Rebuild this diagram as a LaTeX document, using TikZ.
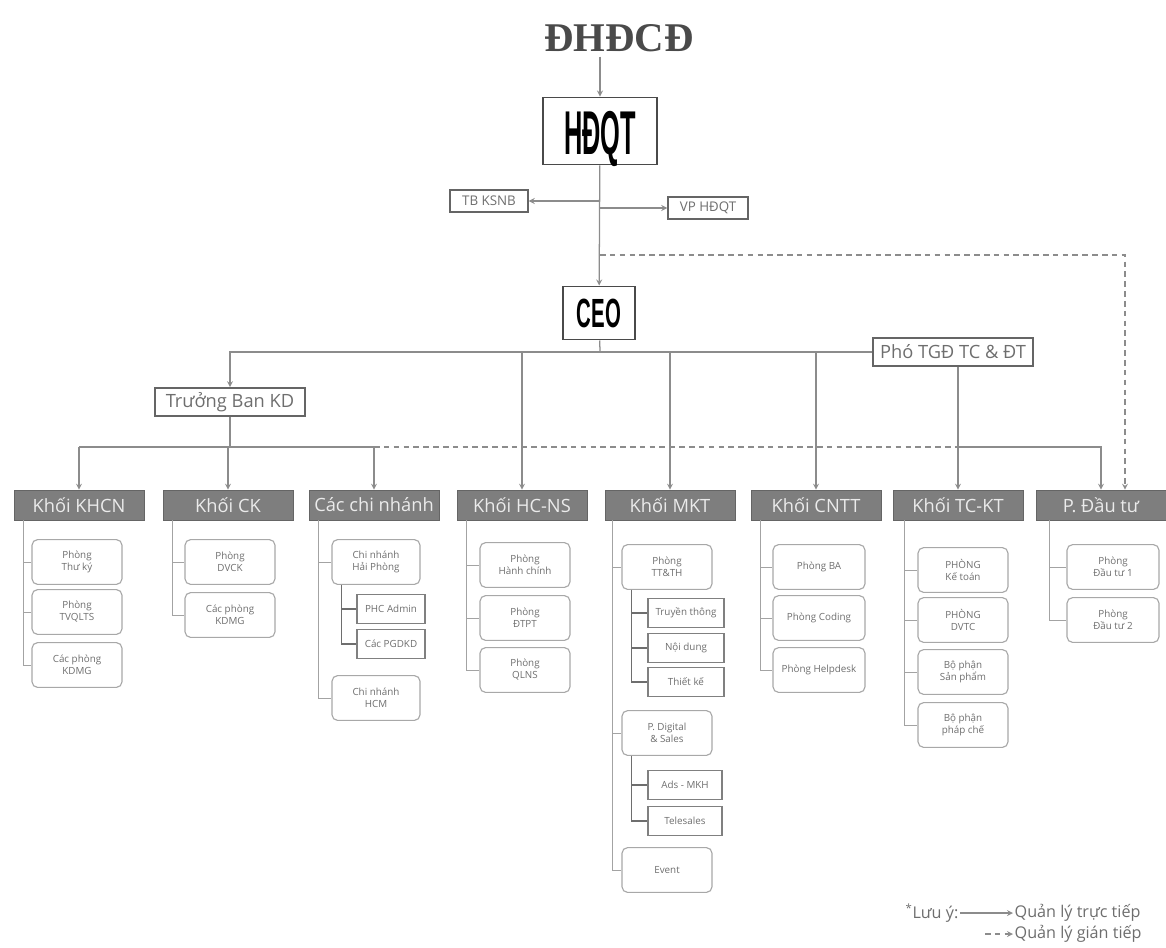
\documentclass[tikz,border=0pt]{standalone}
\usepackage{fontspec}
\setmainfont{Open Sans}
\newfontfamily\titlefont{Liberation Serif}
\newfontfamily\condfont{Liberation Sans}
\usetikzlibrary{arrows,calc}

\definecolor{linegray}{HTML}{8C8C8C}
\definecolor{hdrgray}{HTML}{7E7E7E}
\definecolor{boxgray}{HTML}{A8A8A8}
\definecolor{txtgray}{HTML}{6E6E6E}
\definecolor{darkgray}{HTML}{4A4A4A}

\begin{document}
\begin{tikzpicture}[x=0.025cm,y=-0.025cm,>=stealth,
    direct/.style={draw=linegray,line width=0.9pt},
    indirect/.style={draw=linegray,line width=0.9pt,dash pattern=on 4pt off 3pt},
    tree/.style={draw=linegray!80,line width=0.7pt},
    subtree/.style={draw=darkgray!80,line width=1pt},
    bigbox/.style={draw=darkgray,line width=1.4pt,fill=white,inner sep=0pt},
    midbox/.style={draw=darkgray!85,line width=1.1pt,text=txtgray,inner sep=2pt,minimum height=0.7cm,font=\fontsize{13}{13}\selectfont},
    smallbox/.style={draw=darkgray!85,line width=1pt,text=txtgray,inner sep=2pt,minimum height=0.55cm,font=\fontsize{9.5}{9.5}\selectfont},
    khoi/.style={fill=hdrgray,draw=hdrgray!80!black,text=white!92!black,minimum width=3.25cm,minimum height=0.75cm,inner sep=1pt,font=\fontsize{13}{13}\selectfont},
    phong/.style={draw=boxgray,rounded corners=4pt,line width=0.8pt,text=txtgray,align=center,minimum width=2.25cm,minimum height=1.12cm,inner sep=1pt,font=\fontsize{7}{8.5}\selectfont},
    bophan/.style={draw=darkgray!70,line width=0.8pt,text=txtgray,align=center,minimum width=1.9cm,minimum height=0.72cm,inner sep=1pt,font=\fontsize{7}{8.5}\selectfont},
    legend/.style={text=txtgray,inner sep=1pt,font=\fontsize{11.5}{11.5}\selectfont}]
    \useasboundingbox (0,0) rectangle (1166,948);

    % cấp trên
    \node[font=\titlefont\bfseries\fontsize{29}{29}\selectfont,text=darkgray] (dhdcd) at (619,38) {ĐHĐCĐ};
    \node[bigbox,minimum width=2.85cm,minimum height=1.675cm] (hdqt) at (600,131)
        {\raisebox{-17pt}[0pt][0pt]{\scalebox{0.41}[1]{\condfont\bfseries\fontsize{44}{44}\selectfont HĐQT}}};
    \node[smallbox,minimum width=1.95cm] (ksnb) at (489,201) {TB KSNB};
    \node[smallbox,minimum width=2cm] (vphdqt) at (708,208) {VP HĐQT};
    \node[bigbox,minimum width=1.8cm,minimum height=1.325cm] (ceo) at (599,313)
        {\raisebox{-2pt}{\scalebox{0.5}[1]{\condfont\bfseries\fontsize{29}{29}\selectfont CEO}}};
    \node[midbox,minimum width=4cm] (photgd) at (953,352) {Phó TGĐ TC \& ĐT};
    \node[midbox,minimum width=3.75cm] (tbkd) at (230,402) {Trưởng Ban KD};

    % các khối
    \node[khoi] (khcn) at (79,505) {Khối KHCN};
    \node[khoi] (ck) at (228,505) {Khối CK};
    \node[khoi] (ccn) at (374,505) {Các chi nhánh};
    \node[khoi] (hcns) at (522,505) {Khối HC-NS};
    \node[khoi] (mkt) at (670,505) {Khối MKT};
    \node[khoi] (cntt) at (816,505) {Khối CNTT};
    \node[khoi] (tckt) at (958,505) {Khối TC-KT};
    \node[khoi] (dt) at (1101,505) {P. Đầu tư};

    % khối KHCN
    \node[phong] (k1) at (77,562) {Phòng\\Thư ký};
    \node[phong] (k2) at (77,612) {Phòng\\TVQLTS};
    \node[phong] (k3) at (77,665) {Các phòng\\KDMG};

    % khối CK
    \node[phong] (c1) at (230,562) {Phòng\\DVCK};
    \node[phong] (c2) at (230,615) {Các phòng\\KDMG};

    % các chi nhánh
    \node[phong,minimum width=2.2cm] (n1) at (376,562) {Chi nhánh\\Hải Phòng};
    \node[bophan,minimum width=1.7cm] (n11) at (391,609) {PHC Admin};
    \node[bophan,minimum width=1.7cm] (n12) at (391,644) {Các PGDKD};
    \node[phong,minimum width=2.2cm] (n2) at (376,698) {Chi nhánh\\HCM};

    % khối HC-NS
    \node[phong] (h1) at (525,565) {Phòng\\Hành chính};
    \node[phong] (h2) at (525,618) {Phòng\\ĐTPT};
    \node[phong] (h3) at (525,670) {Phòng\\QLNS};

    % khối MKT
    \node[phong] (m1) at (667,567) {Phòng\\TT\&TH};
    \node[bophan] (m11) at (686,613) {Truyền thông};
    \node[bophan] (m12) at (686,648) {Nội dung};
    \node[bophan] (m13) at (686,682) {Thiết kế};
    \node[phong] (m2) at (667,733) {P. Digital\\\& Sales};
    \node[bophan,minimum width=1.85cm] (m21) at (685,785) {Ads - MKH};
    \node[bophan,minimum width=1.85cm] (m22) at (685,821) {Telesales};
    \node[phong] (m3) at (667,870) {Event};

    % khối CNTT
    \node[phong,minimum width=2.3cm] (t1) at (819,567) {Phòng BA};
    \node[phong,minimum width=2.3cm] (t2) at (819,618) {Phòng Coding};
    \node[phong,minimum width=2.3cm] (t3) at (819,670) {Phòng Helpdesk};

    % khối TC-KT
    \node[phong] (f1) at (963,570) {PHÒNG\\Kế toán};
    \node[phong] (f2) at (963,620) {PHÒNG\\DVTC};
    \node[phong] (f3) at (963,672) {Bộ phận\\Sản phẩm};
    \node[phong] (f4) at (963,725) {Bộ phận\\pháp chế};

    % P. Đầu tư
    \node[phong,minimum width=2.3cm] (d1) at (1113,567) {Phòng\\Đầu tư 1};
    \node[phong,minimum width=2.3cm] (d2) at (1113,620) {Phòng\\Đầu tư 2};

    % đường nối cấp trên
    \coordinate (split) at (600,255);
    \coordinate (ceobus) at (600,352);
    \coordinate (kdbus) at (230,447);
    \draw[direct,->] (dhdcd.south -| hdqt.north) -- (hdqt.north);
    \draw[direct,->] (hdqt) -- (ceo);
    \draw[direct,->] (hdqt.south |- ksnb) -- (ksnb.east);
    \draw[direct,->] (hdqt.south |- vphdqt) -- (vphdqt.west);
    \draw[indirect,->] (split) -| ($(dt.north)+(24,0)$);

    % CEO
    \draw[direct] (ceo) -- (ceobus);
    \draw[direct,->] (ceobus) -| (tbkd.north);
    \draw[direct] (ceobus) -- (photgd.west);
    \foreach \k in {hcns,mkt,cntt}
        \draw[direct,->] (ceobus -| \k) -- (\k.north);

    % trưởng ban KD, phó TGĐ
    \draw[direct] (tbkd) -- (kdbus);
    \draw[direct] (kdbus -| khcn) -- (kdbus -| ccn);
    \foreach \k in {khcn,ck,ccn}
        \draw[direct,->] (kdbus -| \k) -- (\k.north);
    \draw[indirect] (kdbus -| ccn) -- (kdbus -| tckt);
    \draw[direct,->] (photgd.south -| tckt) -- (tckt.north);
    \draw[direct,->] (kdbus -| tckt) -| (dt.north);

    % cây trong từng khối
    \foreach \c in {k1,k2,k3} \draw[tree] (khcn.south west) ++(10,0) |- (\c.west);
    \foreach \c in {c1,c2} \draw[tree] (ck.south west) ++(10,0) |- (\c.west);
    \foreach \c in {n1,n2} \draw[tree] (ccn.south west) ++(10,0) |- (\c.west);
    \foreach \c in {n11,n12} \draw[subtree] (n1.south west) ++(10,0) |- (\c.west);
    \foreach \c in {h1,h2,h3} \draw[tree] (hcns.south west) ++(10,0) |- (\c.west);
    \foreach \c in {m1,m2,m3} \draw[tree] (mkt.south west) ++(8,0) |- (\c.west);
    \foreach \c in {m11,m12,m13} \draw[subtree] (m1.south west) ++(10,0) |- (\c.west);
    \foreach \c in {m21,m22} \draw[subtree] (m2.south west) ++(10,0) |- (\c.west);
    \foreach \c in {t1,t2,t3} \draw[tree] (cntt.south west) ++(10,0) |- (\c.west);
    \foreach \c in {f1,f2,f3,f4} \draw[tree] (tckt.south west) ++(12,0) |- (\c.west);
    \foreach \c in {d1,d2} \draw[tree] (dt.south west) ++(14,0) |- (\c.west);

    % chú thích
    \node[legend,anchor=east] (luuy) at (960,913) {\textsuperscript{*}Lưu ý:};
    \node[legend,anchor=west] (qltt) at (1013,913) {Quản lý trực tiếp};
    \node[legend,anchor=west] (qlgt) at (1013,934) {Quản lý gián tiếp};
    \draw[direct,->] (luuy.east) -- (qltt.west);
    \draw[indirect,->] ($(qlgt.west)+(-28,0)$) -- (qlgt.west);
\end{tikzpicture}
\end{document}
